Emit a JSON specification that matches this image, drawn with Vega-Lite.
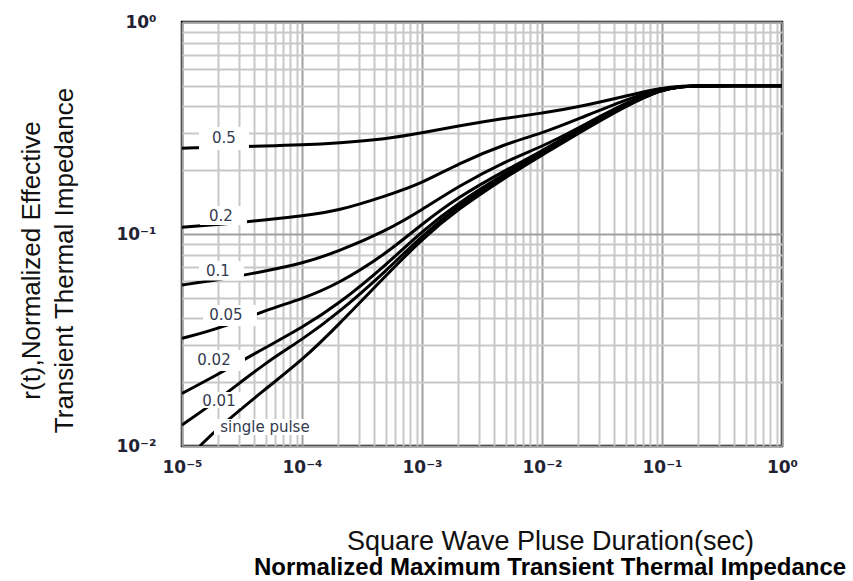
{
  "$schema": "https://vega.github.io/schema/vega-lite/v6.json",
  "width": 600,
  "height": 424,
  "autosize": "none",
  "padding": {"left": 182, "top": 22, "right": 71, "bottom": 135},
  "background": "white",
  "config": {"view": {"stroke": "black", "strokeWidth": 2.5}, "font": "Liberation Sans"},
  "title": {"text": "Normalized Maximum Transient Thermal Impedance", "orient": "bottom", "font": "Liberation Sans", "fontSize": 24, "fontWeight": "bold", "color": "#000000", "anchor": "middle", "frame": "group", "dx": 68, "offset": 2},
  "datasets": {
    "curves": [
      {"duty": "0.5", "t": 0.00001, "r": 0.2536}, {"duty": "0.5", "t": 0.00002, "r": 0.2573}, {"duty": "0.5", "t": 0.00005, "r": 0.2601}, {"duty": "0.5", "t": 0.0001, "r": 0.263}, {"duty": "0.5", "t": 0.0002, "r": 0.2687}, {"duty": "0.5", "t": 0.0005, "r": 0.2806}, {"duty": "0.5", "t": 0.001, "r": 0.2995}, {"duty": "0.5", "t": 0.002, "r": 0.3231}, {"duty": "0.5", "t": 0.005, "r": 0.3525}, {"duty": "0.5", "t": 0.01, "r": 0.371}, {"duty": "0.5", "t": 0.02, "r": 0.3972}, {"duty": "0.5", "t": 0.05, "r": 0.4477}, {"duty": "0.5", "t": 0.1, "r": 0.4909}, {"duty": "0.5", "t": 0.15, "r": 0.4985}, {"duty": "0.5", "t": 0.2, "r": 0.5}, {"duty": "0.5", "t": 0.5, "r": 0.5}, {"duty": "0.5", "t": 1, "r": 0.5},
      {"duty": "0.2", "t": 0.00001, "r": 0.1075}, {"duty": "0.2", "t": 0.00002, "r": 0.1109}, {"duty": "0.2", "t": 0.00005, "r": 0.1164}, {"duty": "0.2", "t": 0.0001, "r": 0.1216}, {"duty": "0.2", "t": 0.0002, "r": 0.1284}, {"duty": "0.2", "t": 0.0005, "r": 0.1511}, {"duty": "0.2", "t": 0.001, "r": 0.1734}, {"duty": "0.2", "t": 0.002, "r": 0.2148}, {"duty": "0.2", "t": 0.005, "r": 0.2669}, {"duty": "0.2", "t": 0.01, "r": 0.2985}, {"duty": "0.2", "t": 0.02, "r": 0.3486}, {"duty": "0.2", "t": 0.05, "r": 0.4309}, {"duty": "0.2", "t": 0.1, "r": 0.4883}, {"duty": "0.2", "t": 0.15, "r": 0.498}, {"duty": "0.2", "t": 0.2, "r": 0.5}, {"duty": "0.2", "t": 0.5, "r": 0.5}, {"duty": "0.2", "t": 1, "r": 0.5},
      {"duty": "0.1", "t": 0.00001, "r": 0.0575}, {"duty": "0.1", "t": 0.00002, "r": 0.0607}, {"duty": "0.1", "t": 0.00005, "r": 0.0669}, {"duty": "0.1", "t": 0.0001, "r": 0.0726}, {"duty": "0.1", "t": 0.0002, "r": 0.0825}, {"duty": "0.1", "t": 0.0005, "r": 0.1033}, {"duty": "0.1", "t": 0.001, "r": 0.1298}, {"duty": "0.1", "t": 0.002, "r": 0.1679}, {"duty": "0.1", "t": 0.005, "r": 0.2209}, {"duty": "0.1", "t": 0.01, "r": 0.2581}, {"duty": "0.1", "t": 0.02, "r": 0.3155}, {"duty": "0.1", "t": 0.05, "r": 0.4184}, {"duty": "0.1", "t": 0.1, "r": 0.483}, {"duty": "0.1", "t": 0.15, "r": 0.497}, {"duty": "0.1", "t": 0.2, "r": 0.5}, {"duty": "0.1", "t": 0.5, "r": 0.5}, {"duty": "0.1", "t": 1, "r": 0.5},
      {"duty": "0.05", "t": 0.00001, "r": 0.0322}, {"duty": "0.05", "t": 0.00002, "r": 0.0356}, {"duty": "0.05", "t": 0.00005, "r": 0.0438}, {"duty": "0.05", "t": 0.0001, "r": 0.0494}, {"duty": "0.05", "t": 0.0002, "r": 0.0581}, {"duty": "0.05", "t": 0.0005, "r": 0.0805}, {"duty": "0.05", "t": 0.001, "r": 0.1115}, {"duty": "0.05", "t": 0.002, "r": 0.1495}, {"duty": "0.05", "t": 0.005, "r": 0.2004}, {"duty": "0.05", "t": 0.01, "r": 0.2463}, {"duty": "0.05", "t": 0.02, "r": 0.3095}, {"duty": "0.05", "t": 0.05, "r": 0.4104}, {"duty": "0.05", "t": 0.1, "r": 0.4831}, {"duty": "0.05", "t": 0.15, "r": 0.497}, {"duty": "0.05", "t": 0.2, "r": 0.5}, {"duty": "0.05", "t": 0.5, "r": 0.5}, {"duty": "0.05", "t": 1, "r": 0.5},
      {"duty": "0.02", "t": 0.00001, "r": 0.0177}, {"duty": "0.02", "t": 0.00002, "r": 0.0218}, {"duty": "0.02", "t": 0.00005, "r": 0.0292}, {"duty": "0.02", "t": 0.0001, "r": 0.0362}, {"duty": "0.02", "t": 0.0002, "r": 0.0465}, {"duty": "0.02", "t": 0.0005, "r": 0.0712}, {"duty": "0.02", "t": 0.001, "r": 0.1033}, {"duty": "0.02", "t": 0.002, "r": 0.14}, {"duty": "0.02", "t": 0.005, "r": 0.194}, {"duty": "0.02", "t": 0.01, "r": 0.2411}, {"duty": "0.02", "t": 0.02, "r": 0.3044}, {"duty": "0.02", "t": 0.05, "r": 0.406}, {"duty": "0.02", "t": 0.1, "r": 0.4831}, {"duty": "0.02", "t": 0.15, "r": 0.497}, {"duty": "0.02", "t": 0.2, "r": 0.5}, {"duty": "0.02", "t": 0.5, "r": 0.5}, {"duty": "0.02", "t": 1, "r": 0.5},
      {"duty": "0.01", "t": 0.00001, "r": 0.01256}, {"duty": "0.01", "t": 0.00002, "r": 0.01648}, {"duty": "0.01", "t": 0.00005, "r": 0.0248}, {"duty": "0.01", "t": 0.0001, "r": 0.0317}, {"duty": "0.01", "t": 0.0002, "r": 0.0423}, {"duty": "0.01", "t": 0.0005, "r": 0.0667}, {"duty": "0.01", "t": 0.001, "r": 0.0984}, {"duty": "0.01", "t": 0.002, "r": 0.1356}, {"duty": "0.01", "t": 0.005, "r": 0.1898}, {"duty": "0.01", "t": 0.01, "r": 0.2384}, {"duty": "0.01", "t": 0.02, "r": 0.3012}, {"duty": "0.01", "t": 0.05, "r": 0.4037}, {"duty": "0.01", "t": 0.1, "r": 0.4831}, {"duty": "0.01", "t": 0.15, "r": 0.497}, {"duty": "0.01", "t": 0.2, "r": 0.5}, {"duty": "0.01", "t": 0.5, "r": 0.5}, {"duty": "0.01", "t": 1, "r": 0.5},
      {"duty": "single", "t": 0.0000141, "r": 0.01}, {"duty": "single", "t": 0.00002, "r": 0.01216}, {"duty": "single", "t": 0.00005, "r": 0.01867}, {"duty": "single", "t": 0.0001, "r": 0.02534}, {"duty": "single", "t": 0.0002, "r": 0.03709}, {"duty": "single", "t": 0.0005, "r": 0.06365}, {"duty": "single", "t": 0.001, "r": 0.09471}, {"duty": "single", "t": 0.002, "r": 0.1312}, {"duty": "single", "t": 0.005, "r": 0.1857}, {"duty": "single", "t": 0.01, "r": 0.2358}, {"duty": "single", "t": 0.02, "r": 0.2979}, {"duty": "single", "t": 0.05, "r": 0.4016}, {"duty": "single", "t": 0.1, "r": 0.4831}, {"duty": "single", "t": 0.15, "r": 0.497}, {"duty": "single", "t": 0.2, "r": 0.5}, {"duty": "single", "t": 0.5, "r": 0.5}, {"duty": "single", "t": 1, "r": 0.5}
    ],
    "labels": [
      {"label": "0.5", "t": 0.00002237, "r": 0.2836, "t1": 0.00001385, "t2": 0.00003613, "r1": 0.3197, "r2": 0.2489},
      {"label": "0.2", "t": 0.00002112, "r": 0.1216, "t1": 0.00001412, "t2": 0.00003477, "r1": 0.1355, "r2": 0.1103},
      {"label": "0.1", "t": 0.00001994, "r": 0.0669, "t1": 0.00001385, "t2": 0.00003282, "r1": 0.0746, "r2": 0.06035},
      {"label": "0.05", "t": 0.00002324, "r": 0.04148, "t1": 0.00001496, "t2": 0.00004212, "r1": 0.04625, "r2": 0.03681},
      {"label": "0.02", "t": 0.00001847, "r": 0.02545, "t1": 0.00001211, "t2": 0.00003346, "r1": 0.02836, "r2": 0.02258},
      {"label": "0.01", "t": 0.00002033, "r": 0.01631, "t1": 0.00001333, "t2": 0.00003099, "r1": 0.01798, "r2": 0.01511},
      {"label": "single pulse", "t": 0.00004911, "r": 0.0123, "t1": 0.00001847, "t2": 0.0001305, "r1": 0.01341, "r2": 0.01127}
    ]
  },
  "layer": [
    {
      "data": {"name": "curves"},
      "mark": {"type": "line", "color": "black", "strokeWidth": 3, "interpolate": "basis", "clip": true},
      "encoding": {
        "x": {
          "field": "t", "type": "quantitative",
          "scale": {"type": "log", "domain": [0.00001, 1]},
          "axis": {
            "values": [0.00001, 0.00002, 0.00003, 0.00004, 0.00005, 0.00006, 0.00007, 0.00008, 0.00009, 0.0001, 0.0002, 0.0003, 0.0004, 0.0005, 0.0006, 0.0007, 0.0008, 0.0009, 0.001, 0.002, 0.003, 0.004, 0.005, 0.006, 0.007, 0.008, 0.009, 0.01, 0.02, 0.03, 0.04, 0.05, 0.06, 0.07, 0.08, 0.09, 0.1, 0.2, 0.3, 0.4, 0.5, 0.6, 0.7, 0.8, 0.9, 1],
            "labelExpr": "datum.value==0.00001?'10⁻⁵':datum.value==0.0001?'10⁻⁴':datum.value==0.001?'10⁻³':datum.value==0.01?'10⁻²':datum.value==0.1?'10⁻¹':datum.value==1?'10⁰':''",
            "labelFont": "DejaVu Sans", "labelFontSize": 17, "labelFontWeight": "bold", "labelColor": "#222233",
            "labelPadding": 13, "labelOverlap": false, "labelFlush": false, "labelBound": false,
            "ticks": false, "domain": false,
            "grid": true,
            "gridColor": {"condition": {"test": "datum.value==0.00001||datum.value==0.0001||datum.value==0.001||datum.value==0.01||datum.value==0.1||datum.value==1", "value": "#a0a0a0"}, "value": "#c8c8c8"},
            "gridWidth": 2, "gridOpacity": 1,
            "title": "Square Wave Pluse Duration(sec)",
            "titleFont": "Liberation Sans", "titleFontSize": 27, "titleFontWeight": "normal", "titleColor": "#111111",
            "titleX": 368, "titleY": 103, "titleBaseline": "alphabetic", "titleAlign": "center"
          }
        },
        "y": {
          "field": "r", "type": "quantitative",
          "scale": {"type": "log", "domain": [0.01, 1]},
          "axis": {
            "values": [0.01, 0.02, 0.03, 0.04, 0.05, 0.06, 0.07, 0.08, 0.09, 0.1, 0.2, 0.3, 0.4, 0.5, 0.6, 0.7, 0.8, 0.9, 1],
            "labelExpr": "datum.value==0.01?'10⁻²':datum.value==0.1?'10⁻¹':datum.value==1?'10⁰':''",
            "labelFont": "DejaVu Sans", "labelFontSize": 17, "labelFontWeight": "bold", "labelColor": "#222233",
            "labelPadding": 26, "labelOverlap": false, "labelFlush": false, "labelBound": false,
            "ticks": false, "domain": false,
            "grid": true,
            "gridColor": {"condition": {"test": "datum.value==0.01||datum.value==0.1||datum.value==1", "value": "#a0a0a0"}, "value": "#c8c8c8"},
            "gridWidth": 2, "gridOpacity": 1,
            "title": ["r(t),Normalized Effective", "Transient Thermal Impedance"],
            "titleFont": "Liberation Sans", "titleFontSize": 26, "titleFontWeight": "normal", "titleColor": "#111111",
            "titleLineHeight": 33, "titleAngle": -90,
            "titleX": -151, "titleY": 238, "titleBaseline": "middle", "titleAlign": "center"
          }
        },
        "detail": {"field": "duty", "type": "nominal"}
      }
    },
    {
      "data": {"name": "labels"},
      "mark": {"type": "rect", "fill": "white"},
      "encoding": {
        "x": {"field": "t1", "type": "quantitative"},
        "x2": {"field": "t2"},
        "y": {"field": "r1", "type": "quantitative"},
        "y2": {"field": "r2"}
      }
    },
    {
      "data": {"name": "labels"},
      "mark": {"type": "text", "font": "DejaVu Sans", "fontSize": 15, "color": "#333a50", "align": "center", "baseline": "middle"},
      "encoding": {
        "x": {"field": "t", "type": "quantitative"},
        "y": {"field": "r", "type": "quantitative"},
        "text": {"field": "label"}
      }
    }
  ]
}
